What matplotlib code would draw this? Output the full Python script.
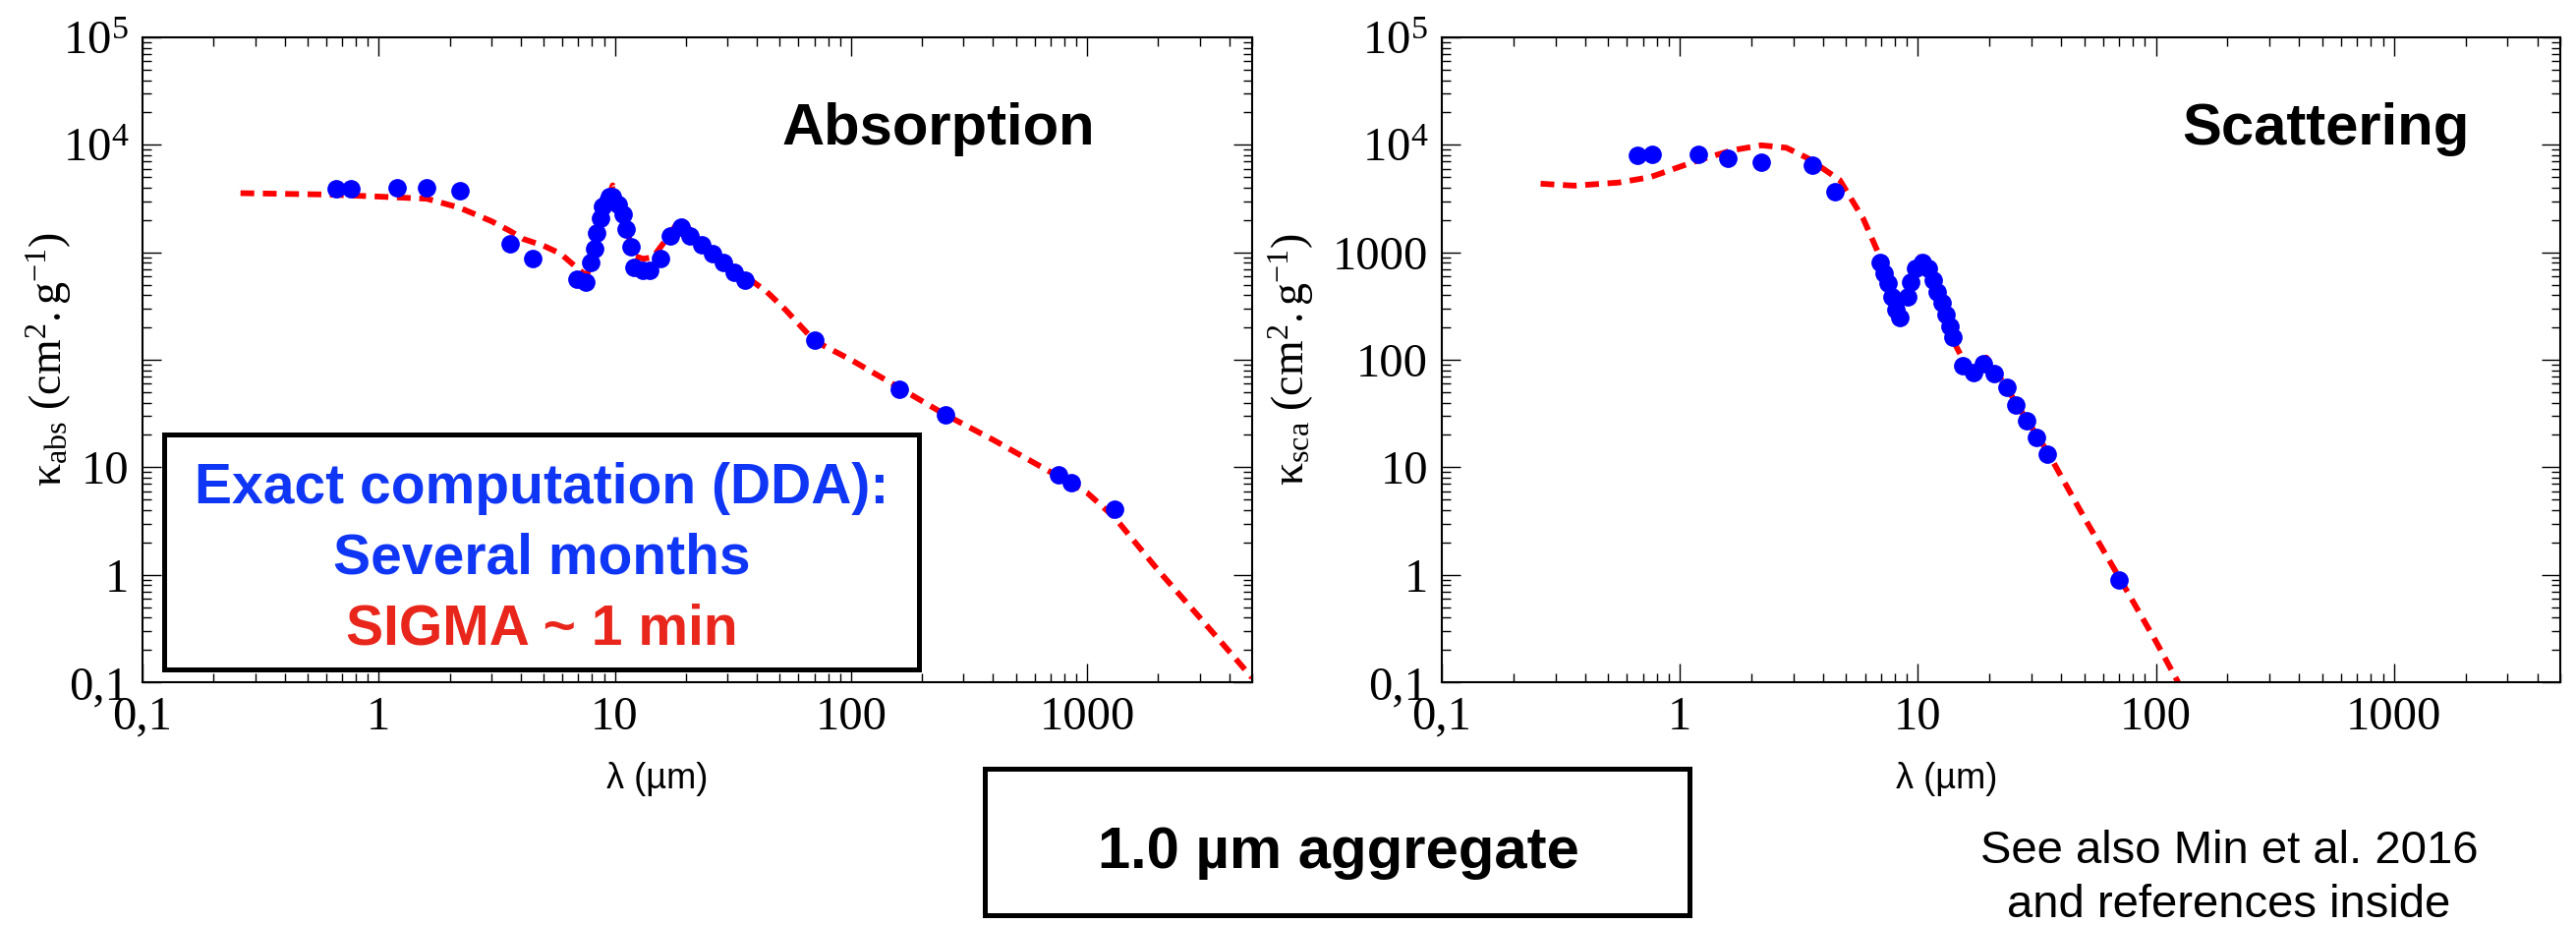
import numpy as np
import matplotlib
matplotlib.use('Agg')
import matplotlib.pyplot as plt
from matplotlib.patches import Rectangle
from matplotlib.ticker import LogLocator, NullFormatter

plt.rcParams['font.family'] = 'Liberation Serif'
plt.rcParams['mathtext.fontset'] = 'custom'
plt.rcParams['mathtext.rm'] = 'Liberation Serif'
plt.rcParams['mathtext.it'] = 'Liberation Serif:italic'
plt.rcParams['mathtext.bf'] = 'Liberation Serif:bold'

# absorption: DDA points
abs_wl = [0.66, 0.76, 1.2, 1.6, 2.2, 3.6, 4.5, 6.9, 7.5, 7.9, 8.2, 8.4, 8.7, 8.9,
          9.3, 9.5, 9.8, 10.3, 10.8, 11.2, 11.7, 12.1, 13.1, 14.0, 15.6, 17.1,
          19.0, 20.9, 23.3, 25.9, 28.7, 31.9, 35.5, 70, 160, 251, 757, 857, 1310]
abs_dda = [3900, 3900, 3980, 3980, 3740, 1200, 873, 561, 527, 804, 1080, 1510,
           2070, 2670, 2960, 3300, 3300, 2790, 2260, 1640, 1130, 723, 679, 679,
           873, 1420, 1710, 1420, 1170, 971, 804, 651, 550, 152, 53, 30.7, 8.5,
           7.2, 4.05]
# absorption: SIGMA curve
abs_line_wl = [0.26, 0.6, 1.0, 1.6, 2.2, 3.0, 3.6, 4.1, 5.0, 5.9, 7.0, 7.6, 8.2,
               8.8, 9.3, 9.8, 10.5, 11.2, 12.0, 13.2, 14.5, 16.0, 17.5, 19.0,
               22.0, 28.0, 35.0, 44.0, 53.0, 70.0, 100, 160, 250, 400, 757,
               1000, 1310, 2000, 3000, 5000]
abs_sigma = [3550, 3450, 3300, 3150, 2600, 1950, 1580, 1330, 1150, 970, 700, 600,
             1000, 2100, 3000, 4200, 3000, 1700, 930, 870, 900, 1200, 1600, 2050,
             1400, 850, 620, 430, 290, 150, 100, 55, 31, 18, 8.2, 5.8, 3.4, 1.1,
             0.4, 0.11]

# scattering: DDA points
sca_wl = [0.664, 0.766, 1.2, 1.59, 2.2, 3.61, 4.5, 6.96, 7.24, 7.52, 7.81, 8.11,
          8.43, 9.1, 9.36, 9.82, 10.5, 11.1, 11.6, 12.1, 12.6, 13.1, 13.6, 14.0,
          15.4, 17.2, 18.8, 21.0, 23.6, 25.9, 28.7, 31.6, 35.1, 70.3]
sca_dda = [8000, 8170, 8170, 7510, 6900, 6480, 3670, 807, 640, 519, 386, 294, 248,
           386, 530, 712, 807, 712, 552, 429, 341, 264, 205, 163, 88, 76, 92, 75,
           55, 38, 27, 19, 13.3, 0.9]
# scattering: SIGMA curve
sca_line_wl = [0.26, 0.36, 0.55, 0.75, 1.2, 1.66, 2.2, 2.8, 3.45, 4.7, 5.9, 6.9,
               7.6, 8.3, 9.0, 9.8, 10.5, 11.5, 12.5, 13.5, 14.3, 15.5, 17.0,
               19.4, 22, 28, 35, 50, 70, 100, 124]
sca_sigma = [4350, 4170, 4450, 5000, 7200, 8900, 9900, 9400, 7500, 4700, 2050, 930,
             550, 330, 420, 750, 1000, 650, 370, 210, 141, 100, 80, 105, 70, 30,
             14, 3.4, 0.95, 0.24, 0.1]

yticks = [0.1, 1, 10, 100, 1000, 1e4, 1e5]
abs_ylabels = ['0,1', '1', '10', '', '', '$10^{4}$', '$10^{5}$']
sca_ylabels = ['0,1', '1', '10', '100', '1000', '$10^{4}$', '$10^{5}$']
xticks = [0.1, 1, 10, 100, 1000]
xlabels = ['0,1', '1', '10', '100', '1000']

W, H = 2621, 941
fig = plt.figure(figsize=(W / 100, H / 100), dpi=100)

def fx(px):
    return px / W

def fy(py):
    return 1 - py / H

ax1 = fig.add_axes([fx(145), fy(694), fx(1274) - fx(145), fy(38) - fy(694)])
ax2 = fig.add_axes([fx(1467), fy(694), fx(2605) - fx(1467), fy(38) - fy(694)])

for ax, lwl, lval, pwl, pval, ylab in [
        (ax1, abs_line_wl, abs_sigma, abs_wl, abs_dda, abs_ylabels),
        (ax2, sca_line_wl, sca_sigma, sca_wl, sca_dda, sca_ylabels)]:
    ax.plot(lwl, lval, color='#ff0000', lw=4.2, dashes=(2.4, 1.5), zorder=2)
    ax.plot(pwl, pval, 'o', color='#0000ff', ms=13.5, mec='none', zorder=3)
    ax.set_xscale('log')
    ax.set_yscale('log')
    ax.set_xlim(0.1, 5000)
    ax.set_ylim(0.1, 1e5)
    ax.set_xticks(xticks, xlabels)
    ax.set_yticks(yticks, ylab)
    ax.xaxis.set_minor_locator(LogLocator(base=10, subs=np.arange(2, 10), numticks=20))
    ax.yaxis.set_minor_locator(LogLocator(base=10, subs=np.arange(2, 10), numticks=20))
    ax.xaxis.set_minor_formatter(NullFormatter())
    ax.yaxis.set_minor_formatter(NullFormatter())
    ax.tick_params(which='both', direction='in', top=True, right=True, width=1.0)
    ax.tick_params(which='major', length=13.5, labelsize=35, pad=10)
    ax.tick_params(which='minor', length=6.5)
    for s in ax.spines.values():
        s.set_linewidth(1.5)

sans = 'Liberation Sans'

# y labels
ylab_abs = r'$\mathrm{\kappa}_{\mathrm{abs}}\ (\mathrm{cm}^{2}.\mathrm{g}^{-1})$'
ylab_sca = r'$\mathrm{\kappa}_{\mathrm{sca}}\ (\mathrm{cm}^{2}.\mathrm{g}^{-1})$'
fig.text(fx(50), fy(365), ylab_abs, rotation=90, ha='center', va='center', fontsize=33)
fig.text(fx(1314), fy(365), ylab_sca, rotation=90, ha='center', va='center', fontsize=33)

# x labels
fig.text(fx(669), fy(793), 'λ (µm)', ha='center', va='center', fontsize=26, family=sans)
fig.text(fx(1981), fy(793), 'λ (µm)', ha='center', va='center', fontsize=26, family=sans)

# panel titles
fig.text(fx(955), fy(147), 'Absorption', ha='center', va='baseline', fontsize=43,
         family=sans, weight='bold')
fig.text(fx(2366), fy(147), 'Scattering', ha='center', va='baseline', fontsize=43,
         family=sans, weight='bold')

# legend-like box in left panel
fig.patches.append(Rectangle((fx(167), fy(681)), fx(935) - fx(167), fy(442) - fy(681),
                             transform=fig.transFigure, fill=True, facecolor='white',
                             edgecolor='black', lw=3.6, zorder=5))
fig.text(fx(551), fy(512), 'Exact computation (DDA):', ha='center', va='baseline',
         fontsize=41, family=sans, weight='bold', color='#1036f5', zorder=6)
fig.text(fx(551), fy(583), 'Several months', ha='center', va='baseline',
         fontsize=41, family=sans, weight='bold', color='#1036f5', zorder=6)
fig.text(fx(551), fy(655), 'SIGMA ~ 1 min', ha='center', va='baseline',
         fontsize=41, family=sans, weight='bold', color='#e8261b', zorder=6)

# bottom box
fig.patches.append(Rectangle((fx(1002), fy(931)), fx(1719) - fx(1002), fy(782) - fy(931),
                             transform=fig.transFigure, fill=False,
                             edgecolor='black', lw=3.6))
fig.text(fx(1362), fy(883), '1.0 µm aggregate', ha='center', va='baseline',
         fontsize=43, family=sans, weight='bold')

fig.text(fx(2268), fy(878), 'See also Min et al. 2016', ha='center', va='baseline',
         fontsize=34, family=sans)
fig.text(fx(2268), fy(933), 'and references inside', ha='center', va='baseline',
         fontsize=34, family=sans)

fig.savefig('out.png', dpi=100)
